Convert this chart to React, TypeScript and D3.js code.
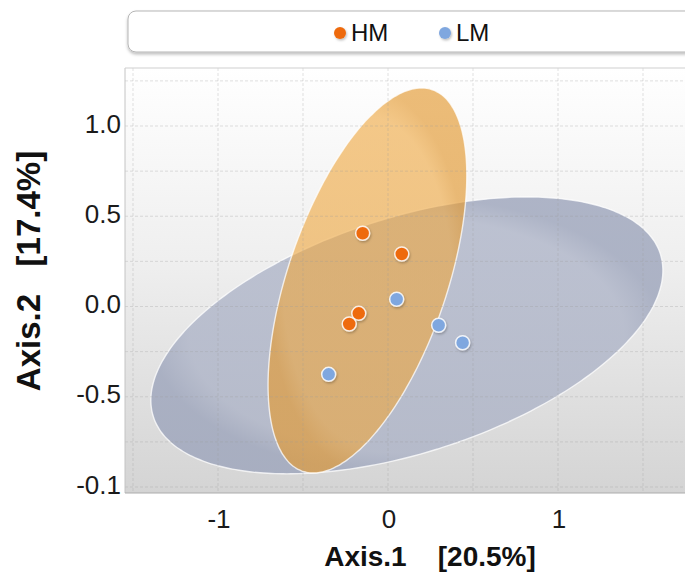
import React from "react";
import * as d3 from "d3";

// Ordination scores (first two axes) per sample, split by group
const hmX = [-0.149, 0.081, -0.172, -0.228];
const hmY = [0.406, 0.291, -0.038, -0.097];
const lmX = [0.051, 0.298, 0.439, -0.349];
const lmY = [0.04, -0.104, -0.201, -0.376];

// Group ellipses in axis units: centre, semi-axes and tilt (degrees)
const ellipseGroups = ["LM", "HM"];
const ellipseCx = [0.111, -0.121];
const ellipseCy = [-0.16, 0.144];
const ellipseRx = [1.558, 1.124];
const ellipseRy = [0.655, 0.465];
const ellipseAngle = [16.4, 69.75];

const groups = ["HM", "LM"];
const groupColors = ["#EE6B10", "#7FA7DF"];

const xTicks = [-1, 0, 1];
const xTickLabels = ["-1", "0", "1"];
const yTicks = [1, 0.5, 0, -0.5, -1];
const yTickLabels = ["1.0", "0.5", "0.0", "-0.5", "-0.1"];
const xGrid = [-1.5, -1, -0.5, 0, 0.5, 1, 1.5];
const yGrid = [1.25, 1, 0.75, 0.5, 0.25, 0, -0.25, -0.5, -0.75, -1];

const W = 685;
const H = 577;
const plot = { left: 125, top: 68, right: 700, bottom: 493 };

const x = d3.scaleLinear().domain([0, 1]).range([388, 558]);
const y = d3.scaleLinear().domain([0, 1]).range([306.5, 126]);

function ellipsePath(i: number): string {
  const th = (ellipseAngle[i] * Math.PI) / 180;
  const pts: [number, number][] = d3.range(0, 360, 2).map((deg) => {
    const t = (deg * Math.PI) / 180;
    const ex = ellipseRx[i] * Math.cos(t);
    const ey = ellipseRy[i] * Math.sin(t);
    const X = ellipseCx[i] + ex * Math.cos(th) - ey * Math.sin(th);
    const Y = ellipseCy[i] + ex * Math.sin(th) + ey * Math.cos(th);
    return [x(X), y(Y)];
  });
  return d3.line().curve(d3.curveCardinalClosed)(pts) || "";
}

const ellipseFill: Record<string, string> = { LM: "url(#gradLM)", HM: "url(#gradHM)" };

export default function App() {
  const font = "'Liberation Sans', Arial, Helvetica, sans-serif";
  const points = [
    ...hmX.map((v, i) => ({ g: 0, x: v, y: hmY[i] })),
    ...lmX.map((v, i) => ({ g: 1, x: v, y: lmY[i] })),
  ];
  const legendDotX = [340, 445];
  return (
    <svg
      width={W}
      height={H}
      style={{ position: "absolute", left: 0, top: 0, background: "#fff" }}
      fontFamily={font}
    >
      <defs>
        <linearGradient id="bg" x1="0" y1="0" x2="0" y2="1">
          <stop offset="0" stopColor="#ffffff" />
          <stop offset="0.45" stopColor="#efefef" />
          <stop offset="1" stopColor="#d4d4d4" />
        </linearGradient>
        <radialGradient id="gradLM" cx="0.5" cy="0.5" r="0.5">
          <stop offset="0.85" stopColor="#a9b0c5" stopOpacity="0.74" />
          <stop offset="1" stopColor="#9ca4bb" stopOpacity="0.8" />
        </radialGradient>
        <radialGradient id="gradHM" cx="0.5" cy="0.5" r="0.5">
          <stop offset="0.85" stopColor="#EFA63C" stopOpacity="0.6" />
          <stop offset="1" stopColor="#e39a33" stopOpacity="0.66" />
        </radialGradient>
        <filter id="shadow" x="-50%" y="-50%" width="200%" height="200%">
          <feDropShadow dx="1" dy="1.5" stdDeviation="1.2" floodColor="#000" floodOpacity="0.25" />
        </filter>
        <filter id="boxShadow" x="-5%" y="-30%" width="110%" height="170%">
          <feDropShadow dx="0" dy="2" stdDeviation="1.5" floodColor="#000" floodOpacity="0.25" />
        </filter>
        <clipPath id="plotClip">
          <rect x={plot.left} y={plot.top} width={plot.right - plot.left} height={plot.bottom - plot.top} />
        </clipPath>
      </defs>

      {/* legend */}
      <rect x={128} y={11} width={580} height={41} rx={8} fill="#fff" stroke="#b5b5b5" strokeWidth={1} filter="url(#boxShadow)" />
      {groups.map((g, i) => (
        <g key={g}>
          <circle cx={legendDotX[i]} cy={33} r={6} fill={groupColors[i]} filter="url(#shadow)" />
          <text x={legendDotX[i] + 11} y={41} fontSize={24} fill="#111">{g}</text>
        </g>
      ))}

      {/* plot panel */}
      <rect x={plot.left} y={plot.top} width={plot.right - plot.left} height={plot.bottom - plot.top} fill="url(#bg)" />
      <g clipPath="url(#plotClip)">
        {ellipseGroups.map((g, i) => (
          <path key={g} d={ellipsePath(i)} fill={ellipseFill[g]} stroke="#ffffff" strokeOpacity={0.75} strokeWidth={1.4} />
        ))}
        {xGrid.map((v) => (
          <line key={"gx" + v} x1={x(v)} x2={x(v)} y1={plot.top} y2={plot.bottom} stroke="#9a9a9a" strokeOpacity={0.3} strokeDasharray="3,2" />
        ))}
        {yGrid.map((v) => (
          <line key={"gy" + v} x1={plot.left} x2={plot.right} y1={y(v)} y2={y(v)} stroke="#9a9a9a" strokeOpacity={0.3} strokeDasharray="3,2" />
        ))}
        {points.map((p, i) => (
          <circle key={i} cx={x(p.x)} cy={y(p.y)} r={7} fill={groupColors[p.g]} stroke="#fff" strokeOpacity={0.85} strokeWidth={1.5} filter="url(#shadow)" />
        ))}
      </g>
      <line x1={plot.left} x2={plot.left} y1={plot.top} y2={plot.bottom} stroke="#c4c4c4" />
      <line x1={plot.left} x2={plot.right} y1={plot.top} y2={plot.top} stroke="#cfcfcf" />
      <line x1={plot.left} x2={plot.right} y1={plot.bottom} y2={plot.bottom} stroke="#ababab" strokeWidth={1.2} />

      {/* tick labels */}
      {yTicks.map((v, i) => (
        <text key={"yt" + v} x={121} y={y(v) + 6.5} fontSize={26} textAnchor="end" fill="#1a1a1a">{yTickLabels[i]}</text>
      ))}
      {xTicks.map((v, i) => (
        <text key={"xt" + v} x={x(v) + 1} y={528} fontSize={26} textAnchor="middle" fill="#1a1a1a">{xTickLabels[i]}</text>
      ))}

      {/* axis titles */}
      <text x={430} y={566} fontSize={28} fontWeight="bold" textAnchor="middle" fill="#111" style={{ whiteSpace: "pre" }}>
        {"Axis.1    [20.5%]"}
      </text>
      <text transform="translate(40,271) rotate(-90)" fontSize={33} fontWeight="bold" textAnchor="middle" fill="#111" style={{ whiteSpace: "pre" }}>
        {"Axis.2   [17.4%]"}
      </text>
    </svg>
  );
}
